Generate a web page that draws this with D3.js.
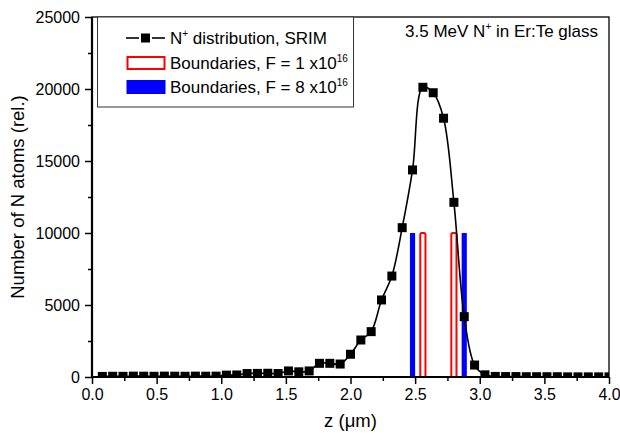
<!DOCTYPE html>
<html>
<head>
<meta charset="utf-8">
<script src="https://d3js.org/d3.v7.min.js"></script>
<style>
  body { margin: 0; background: #fff; }
  text { font-family: Arial, "Liberation Sans", sans-serif; fill: #000; }
</style>
</head>
<body>
<div id="chart"></div>
<script>
// SRIM depth profile
const depth = [0.08, 0.16, 0.24, 0.32, 0.40, 0.48, 0.56, 0.64, 0.72, 0.80,
               0.88, 0.96, 1.04, 1.12, 1.20, 1.28, 1.36, 1.44, 1.52, 1.60,
               1.68, 1.76, 1.84, 1.92, 2.00, 2.08, 2.16, 2.24, 2.32, 2.40,
               2.48, 2.56, 2.64, 2.72, 2.80, 2.88, 2.96, 3.04, 3.12, 3.20,
               3.28, 3.36, 3.44, 3.52, 3.60, 3.68, 3.76, 3.84, 3.92, 4.00];
const atoms = [40, 50, 45, 60, 55, 50, 60, 55, 50, 60,
               55, 60, 130, 140, 240, 250, 260, 240, 420, 360,
               420, 950, 950, 900, 1580, 2570, 3150, 5350, 7010, 10370,
               14380, 20120, 19740, 17970, 12130, 4190, 830, 150, 40, 30,
               30, 20, 20, 20, 20, 10, 10, 10, 10, 10];

// layer boundaries (centre depth) and their marker height
const boundsF1 = [2.56, 2.80];
const boundsF8 = [2.48, 2.88];
const boundHeight = 10000;

const xTicks = [0, 0.5, 1.0, 1.5, 2.0, 2.5, 3.0, 3.5, 4.0];
const xMinor = [0.25, 0.75, 1.25, 1.75, 2.25, 2.75, 3.25, 3.75];
const yTicks = [0, 5000, 10000, 15000, 20000, 25000];
const yMinor = [2500, 7500, 12500, 17500, 22500];

const W = 620, H = 441;
const margin = {top: 17, right: 11, bottom: 64, left: 92};
const width = W - margin.left - margin.right;
const height = H - margin.top - margin.bottom;
const barW = 0.04;

const svg = d3.select("#chart").append("svg")
    .attr("width", W).attr("height", H);
const g = svg.append("g")
    .attr("transform", "translate(" + margin.left + "," + margin.top + ")");

const x = d3.scaleLinear().domain([0, 4]).range([0, width]);
const y = d3.scaleLinear().domain([0, 25000]).range([height, 0]);

g.append("clipPath").attr("id", "clip")
  .append("rect").attr("width", width).attr("height", height);

const plot = g.append("g").attr("clip-path", "url(#clip)");

// boundary bars
plot.selectAll("rect.f8").data(boundsF8).enter().append("rect")
    .attr("class", "f8")
    .attr("x", d => x(d - barW / 2))
    .attr("width", d => x(d + barW / 2) - x(d - barW / 2))
    .attr("y", y(boundHeight))
    .attr("height", y(0) - y(boundHeight))
    .style("fill", "#0000ff");
plot.selectAll("rect.f1").data(boundsF1).enter().append("rect")
    .attr("class", "f1")
    .attr("x", d => x(d - barW / 2))
    .attr("width", d => x(d + barW / 2) - x(d - barW / 2))
    .attr("y", y(boundHeight))
    .attr("height", y(0) - y(boundHeight) + 4)
    .attr("rx", 1.5)
    .style("fill", "#fff")
    .style("stroke", "#ff0000")
    .style("stroke-width", 2);

// curve + markers
const pts = depth.map((d, i) => [d, atoms[i]]);
plot.append("path")
    .datum(pts)
    .attr("d", d3.line().x(d => x(d[0])).y(d => y(d[1])).curve(d3.curveCatmullRom.alpha(0.5)))
    .style("fill", "none").style("stroke", "#000").style("stroke-width", 1.6);
plot.selectAll("rect.pt").data(pts).enter().append("rect")
    .attr("class", "pt")
    .attr("x", d => x(d[0]) - 4.5)
    .attr("y", d => y(d[1]) - 4.5)
    .attr("width", 9).attr("height", 9)
    .style("fill", "#000");

// axes
const fmtX = d3.format(".1f");
g.append("g").attr("transform", "translate(0," + height + ")")
  .call(d3.axisBottom(x).tickValues(xTicks).tickFormat(fmtX).tickSize(7).tickSizeOuter(0).tickPadding(5))
  .call(a => a.select(".domain").remove())
  .call(a => a.selectAll("line").style("stroke-width", 1.5))
  .call(a => a.selectAll("text").style("font-size", "16px").style("font-family", "Arial, 'Liberation Sans', sans-serif"));
g.append("g").attr("transform", "translate(0," + height + ")")
  .call(d3.axisBottom(x).tickValues(xMinor).tickFormat("").tickSize(4).tickSizeOuter(0))
  .call(a => a.select(".domain").remove())
  .call(a => a.selectAll("line").style("stroke-width", 1.5));

g.append("g")
  .call(d3.axisLeft(y).tickValues(yTicks).tickFormat(d3.format("d")).tickSize(7).tickSizeOuter(0).tickPadding(5))
  .call(a => a.select(".domain").remove())
  .call(a => a.selectAll("line").style("stroke-width", 1.5))
  .call(a => a.selectAll("text").style("font-size", "16px").style("font-family", "Arial, 'Liberation Sans', sans-serif"));
g.append("g")
  .call(d3.axisLeft(y).tickValues(yMinor).tickFormat("").tickSize(4).tickSizeOuter(0))
  .call(a => a.select(".domain").remove())
  .call(a => a.selectAll("line").style("stroke-width", 1.5));

// frame
g.append("rect").attr("width", width).attr("height", height)
  .style("fill", "none").style("stroke", "#000").style("stroke-width", 1.3);
g.append("line").attr("x1", 0).attr("x2", 0).attr("y1", 0).attr("y2", height + 1)
  .style("stroke", "#000").style("stroke-width", 2.2);
g.append("line").attr("x1", -1).attr("x2", width).attr("y1", height).attr("y2", height)
  .style("stroke", "#000").style("stroke-width", 2.2);

// axis titles
svg.append("text")
  .attr("x", margin.left + width / 2).attr("y", 427)
  .attr("text-anchor", "middle").style("font-size", "18.5px")
  .text("z (μm)");
svg.append("text")
  .attr("transform", "translate(24," + (margin.top + height / 2) + ") rotate(-90)")
  .attr("text-anchor", "middle").style("font-size", "18.5px")
  .text("Number of N atoms (rel.)");

// annotation
const ann = svg.append("text").attr("x", 598).attr("y", 37)
  .attr("text-anchor", "end").style("font-size", "17px");
ann.append("tspan").text("3.5 MeV N");
ann.append("tspan").attr("dy", -7).style("font-size", "10px").text("+");
ann.append("tspan").attr("dy", 7).text(" in Er:Te glass");

// legend
const lg = svg.append("g");
lg.append("rect").attr("x", 97.5).attr("y", 17).attr("width", 256).attr("height", 90)
  .style("fill", "#fff").style("stroke", "#333").style("stroke-width", 1);

const rows = [38, 63, 87];
lg.append("line").attr("x1", 126).attr("x2", 139).attr("y1", rows[0]).attr("y2", rows[0])
  .style("stroke", "#000").style("stroke-width", 1.6);
lg.append("line").attr("x1", 152).attr("x2", 165).attr("y1", rows[0]).attr("y2", rows[0])
  .style("stroke", "#000").style("stroke-width", 1.6);
lg.append("rect").attr("x", 141).attr("y", rows[0] - 4.5).attr("width", 9).attr("height", 9)
  .style("fill", "#000");
lg.append("rect").attr("x", 127.5).attr("y", rows[1] - 6).attr("width", 37).attr("height", 12)
  .style("fill", "#fff").style("stroke", "#ff0000").style("stroke-width", 2);
lg.append("rect").attr("x", 126.5).attr("y", rows[2] - 7).attr("width", 39).attr("height", 14)
  .style("fill", "#0000ff");

function legendText(yy, main, sup, rest) {
  const t = lg.append("text").attr("x", 170).attr("y", yy + 6).style("font-size", "17px");
  t.append("tspan").text(main);
  t.append("tspan").attr("dy", -7).style("font-size", "10px").text(sup);
  if (rest) t.append("tspan").attr("dy", 7).text(rest);
}
legendText(rows[0], "N", "+", " distribution, SRIM");
legendText(rows[1], "Boundaries, F = 1 x10", "16", "");
legendText(rows[2], "Boundaries, F = 8 x10", "16", "");
</script>
</body>
</html>
